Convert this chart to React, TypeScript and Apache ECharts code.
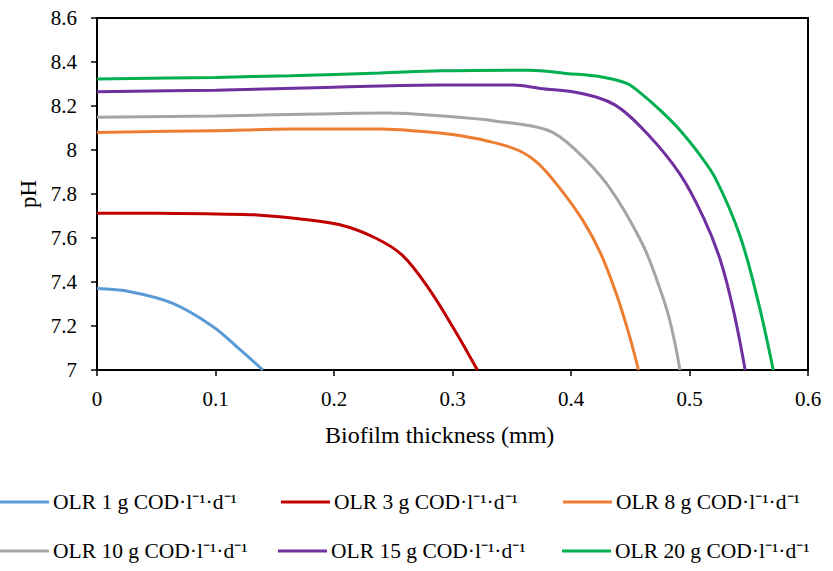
import React, { useEffect, useRef } from "react";
import * as echarts from "echarts";

const seriesNames = [
  "OLR 1 g COD·l⁻¹·d⁻¹",
  "OLR 3 g COD·l⁻¹·d⁻¹",
  "OLR 8 g COD·l⁻¹·d⁻¹",
  "OLR 10 g COD·l⁻¹·d⁻¹",
  "OLR 15 g COD·l⁻¹·d⁻¹",
  "OLR 20 g COD·l⁻¹·d⁻¹",
];
const seriesColors = ["#5B9BD5", "#C00000", "#ED7D31", "#A5A5A5", "#7030A0", "#00B050"];

const olr1X = [0, 0.028, 0.064, 0.098, 0.121, 0.14];
const olr1Y = [7.37, 7.356, 7.303, 7.197, 7.091, 7.0];

const olr3X = [0, 0.05, 0.1, 0.135, 0.17, 0.205, 0.235, 0.258, 0.28, 0.302, 0.321];
const olr3Y = [7.712, 7.712, 7.709, 7.705, 7.688, 7.66, 7.6, 7.52, 7.37, 7.18, 7.0];

const olr8X = [0, 0.1, 0.163, 0.239, 0.275, 0.3, 0.33, 0.355, 0.372, 0.39, 0.41, 0.425, 0.438, 0.448, 0.457];
const olr8Y = [8.08, 8.088, 8.095, 8.095, 8.084, 8.07, 8.04, 8.0, 7.94, 7.83, 7.68, 7.53, 7.35, 7.18, 7.0];

const olr10X = [0, 0.1, 0.2, 0.245, 0.295, 0.337, 0.38, 0.402, 0.431, 0.46, 0.475, 0.484, 0.492];
const olr10Y = [8.149, 8.155, 8.165, 8.168, 8.153, 8.131, 8.091, 8.01, 7.84, 7.576, 7.37, 7.212, 7.0];

const olr15X = [0, 0.1, 0.2, 0.29, 0.351, 0.374, 0.408, 0.437, 0.464, 0.492, 0.512, 0.526, 0.537, 0.547];
const olr15Y = [8.265, 8.272, 8.285, 8.296, 8.295, 8.28, 8.258, 8.205, 8.076, 7.89, 7.69, 7.5, 7.273, 7.0];

const olr20X = [0, 0.1, 0.163, 0.239, 0.29, 0.365, 0.396, 0.425, 0.447, 0.458, 0.475, 0.492, 0.507, 0.522, 0.5426, 0.558, 0.5707];
const olr20Y = [8.323, 8.33, 8.338, 8.35, 8.36, 8.363, 8.348, 8.333, 8.303, 8.262, 8.182, 8.09, 7.99, 7.87, 7.61, 7.31, 7.0];

const allX = [olr1X, olr3X, olr8X, olr10X, olr15X, olr20X];
const allY = [olr1Y, olr3Y, olr8Y, olr10Y, olr15Y, olr20Y];

const xAxisName = "Biofilm thickness (mm)";
const yAxisName = "pH";

const FONT = "Liberation Serif";

const legendPos = [
  { left: 0, top: 490 },
  { left: 281, top: 490 },
  { left: 563, top: 490 },
  { left: 0, top: 539 },
  { left: 278, top: 539 },
  { left: 562, top: 539 },
];

export default function App() {
  const ref = useRef<HTMLDivElement>(null);
  useEffect(() => {
    if (!ref.current) return;
    const chart = echarts.init(ref.current, null, { renderer: "svg" });
    const series = seriesNames.map((name, i) => ({
      name,
      type: "line",
      data: allX[i].map((x, j) => [x, allY[i][j]]),
      smooth: 0.35,
      showSymbol: false,
      symbol: "none",
      lineStyle: { color: seriesColors[i], width: 3 },
      itemStyle: { color: seriesColors[i] },
    }));
    const legends = seriesNames.map((name, i) => ({
      data: [{ name, icon: "rect" }],
      left: legendPos[i].left,
      top: legendPos[i].top,
      padding: 0,
      itemWidth: 49,
      itemHeight: 3,
      orient: "horizontal",
      selectedMode: false,
      textStyle: {
        fontFamily: FONT,
        fontSize: 21.5,
        color: "#000",
        padding: [0, 0, 0, -1],
        lineHeight: 24,
      },
    }));
    chart.setOption({
      animation: false,
      backgroundColor: "#fff",
      textStyle: { fontFamily: FONT },
      grid: {
        left: 97,
        right: 25,
        top: 18,
        bottom: 201,
        show: true,
        borderColor: "#000",
        borderWidth: 2,
        backgroundColor: "transparent",
      },
      legend: legends,
      graphic: [
        {
          type: "text",
          left: 325,
          top: 423,
          style: { text: xAxisName, fontFamily: FONT, fontSize: 24, fill: "#000" },
        },
      ],
      xAxis: {
        type: "value",
        min: 0,
        max: 0.6,
        interval: 0.1,
        axisLine: { show: true, lineStyle: { color: "#000", width: 2 } },
        axisTick: { show: true, length: 6, lineStyle: { color: "#000", width: 1.5 } },
        axisLabel: { fontFamily: FONT, fontSize: 21, color: "#000", margin: 18 },
        splitLine: { show: false },
      },
      yAxis: {
        type: "value",
        min: 7,
        max: 8.6,
        interval: 0.2,
        name: yAxisName,
        nameLocation: "middle",
        nameGap: 56,
        nameRotate: 90,
        nameTextStyle: { fontFamily: FONT, fontSize: 23, color: "#000" },
        axisLine: { show: true, lineStyle: { color: "#000", width: 2 } },
        axisTick: { show: true, length: 6, lineStyle: { color: "#000", width: 1.5 } },
        axisLabel: { fontFamily: FONT, fontSize: 21, color: "#000", margin: 20 },
        splitLine: { show: false },
      },
      series,
    });
    return () => chart.dispose();
  }, []);
  return <div ref={ref} style={{ width: 833, height: 571, position: "absolute", left: 0, top: 0 }} />;
}
